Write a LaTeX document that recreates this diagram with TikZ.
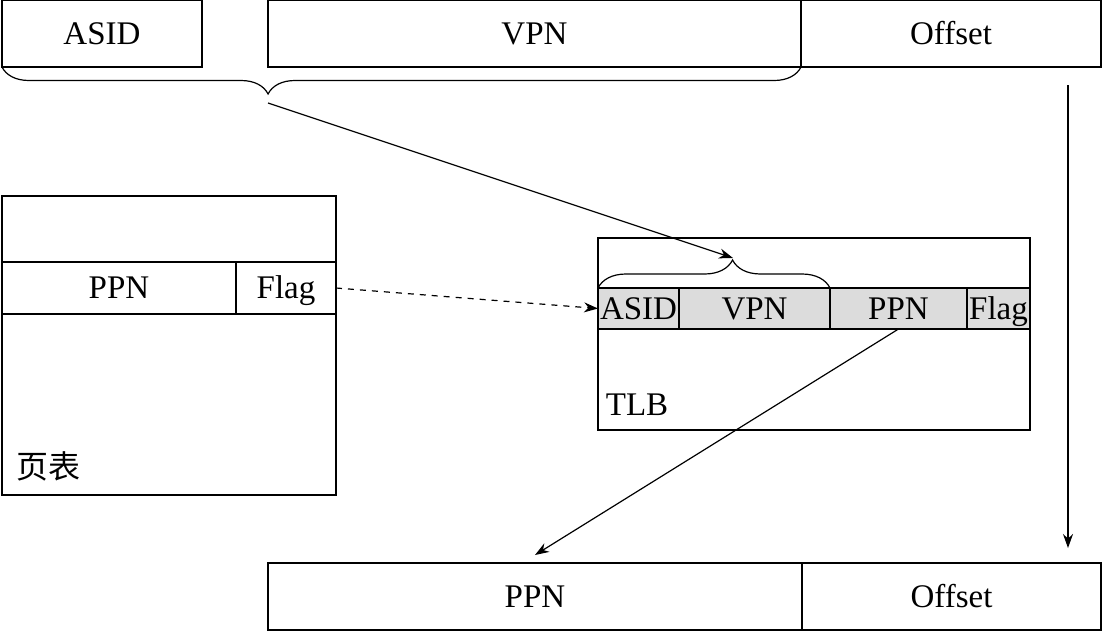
\documentclass[tikz,border=0pt]{standalone}
\usepackage{fontspec}
\setmainfont{Liberation Serif}
\newfontfamily\cjk{Noto Sans CJK SC}
\usepackage{xcolor}
\usepackage{tikz}
\usetikzlibrary{positioning,arrows.meta,decorations.pathreplacing}
\definecolor{tlbgray}{RGB}{220,220,220}

\begin{document}
\begin{tikzpicture}[x=0.5pt,y=-0.5pt,line width=0.6pt,
  txt/.style={font=\fontsize{16.5}{19}\selectfont,text height=10.9pt,text depth=0pt},
  field/.style={draw,txt,inner sep=0pt,outer sep=0pt,minimum height=33.5pt},
  ptcell/.style={draw,txt,inner sep=0pt,outer sep=0pt,minimum height=26pt},
  cell/.style={draw,txt,fill=tlbgray,inner sep=0pt,outer sep=0pt,minimum height=20.5pt},
  arr/.style={-{Stealth[length=7pt,width=5pt]}},
  bracedown/.style={decorate,decoration={brace,mirror,amplitude=13.5pt,aspect=#1}},
  braceup/.style={decorate,decoration={brace,amplitude=14pt,aspect=#1}}]
\useasboundingbox (0,0) rectangle (1103,632);
% virtual address
      \node[field,minimum width=100pt] (asid) at (102,33.5) {ASID};
      \node[field,minimum width=266.5pt] (vpn) at (534.5,33.5) {VPN};
      \node[field,minimum width=150pt,right=0pt of vpn] (off) {Offset};
      \draw[bracedown=0.333] (asid.south west) -- (vpn.south east);
% page table
      \node[draw,inner sep=0pt,minimum width=167pt,minimum height=149.5pt] (pt) at (169,345.5) {};
      \node[ptcell,minimum width=117pt] (ptppn) at (119,288) {PPN};
      \node[ptcell,minimum width=50pt,right=0pt of ptppn] (ptflag) {Flag};
      \node[font=\cjk\fontsize{16}{18}\selectfont] (ptname) at (49,466) {页表};
% TLB
      \node[draw,inner sep=0pt,minimum width=216pt,minimum height=96pt] (tlb) at (814,334) {};
      \node[cell,minimum width=40.5pt] (tasid) at (638.5,308.5) {ASID};
      \node[cell,minimum width=75.5pt,right=0pt of tasid] (tvpn) {VPN};
      \node[cell,minimum width=68.5pt,right=0pt of tvpn] (tppn) {PPN};
      \node[cell,minimum width=31.5pt,right=0pt of tppn] (tflag) {Flag};
      \node[txt] (tlbname) at (637,405) {TLB};
      \draw[braceup=0.58] (tasid.north west) -- (tvpn.north east);
% physical address
      \node[field,minimum width=267pt] (bppn) at (535,596.5) {PPN};
      \node[field,minimum width=149.5pt,right=0pt of bppn] (boff) {Offset};
% arrows
\coordinate (ktip) at (268,103);
\coordinate (ttip) at (733,258);
\coordinate (otop) at (1068,85);
\coordinate (obot) at (1068,548);
      \draw[arr] (ktip) -- (ttip);
      \draw[arr] (otop) -- (obot);
      \draw[arr,dashed] (ptflag.east) -- (tasid.west);
      \draw[arr] (tppn.south) -- ([yshift=4pt]bppn.north);
\end{tikzpicture}
\end{document}
